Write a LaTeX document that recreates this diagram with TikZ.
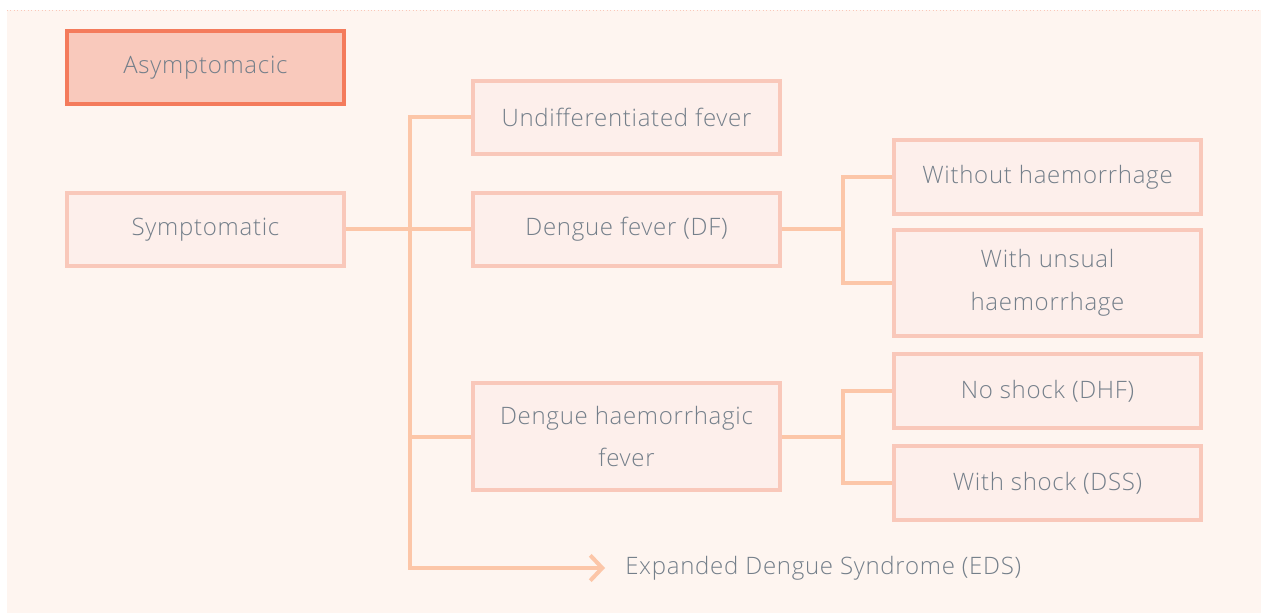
\documentclass[tikz,border=0pt]{standalone}
\usepackage{fontspec}
\IfFontExistsTF{Open Sans Light}
 {\setmainfont{Open Sans Light}[LetterSpace=3]}
 {\setmainfont{Open Sans}[LetterSpace=1]}
\usetikzlibrary{arrows.meta,positioning}
\definecolor{paper}{HTML}{FEF5F0}
\definecolor{boxfill}{HTML}{FDEFEB}
\definecolor{boxline}{HTML}{F9C8BA}
\definecolor{hotfill}{HTML}{F9C9BC}
\definecolor{hotline}{HTML}{F47B5C}
\definecolor{wire}{HTML}{FCC6A8}
\definecolor{ink}{HTML}{747F8A}
\tikzset{
 label/.style={text=ink,align=center,font=\fontsize{18}{32}\selectfont},
 stage/.style={label,draw=boxline,fill=boxfill,line width=2.4pt,
  minimum height=54.75pt,inner sep=0pt},
 narrow/.style={stage,minimum width=207.75pt},
 wide/.style={stage,minimum width=230.25pt},
 hot/.style={narrow,draw=hotline,fill=hotfill,line width=3pt},
 wire/.style={draw=wire,line width=3pt},
}
\begin{document}
\begin{tikzpicture}[x=.75pt,y=-.75pt]
 \useasboundingbox (0,0) rectangle (1261,613);
 \fill[paper] (7,10) rectangle (1261,613);
 \draw[boxline,dotted,line width=.6pt] (7,10)--(1261,10);
 % left column
 \node[hot] (asym) at(205.5,67.5){Asymptomacic};
 \node[narrow] (sympt) at(205.5,229.5){Symptomatic};
 % middle column
 \node[wide] (undiff) at(626.5,117.5){Undifferentiated fever};
 \node[wide] (df) at(626.5,229.5){Dengue fever (DF)};
 \node[wide,minimum height=80.25pt] (dhf) at(626.5,436.5){Dengue haemorrhagic\\fever};
 \node[label,anchor=west,inner sep=0pt] (eds) at(625,568){Expanded Dengue Syndrome (EDS)};
 % right column
 \foreach \n/\y/\h/\t in {nohaem/177/55.5/Without haemorrhage,unusual/283/79.5/With unsual\\haemorrhage,
  noshock/391/55.5/No shock (DHF),shock/483/55.5/With shock (DSS)}{
  \node[wide,minimum height=\h pt] (\n) at(1047.5,\y){\t};}
 % connectors
 \coordinate (jt) at(410,229.5);
 \coordinate (jd) at(843,229.5);
 \coordinate (jh) at(843,436.5);
 \coordinate (eend) at(605,568);
 \draw[wire] (sympt)--(df);
 \draw[wire,-{Straight Barb[length=9pt,width=19pt]}] (undiff.west)-|(jt)|-(eend);
 \draw[wire] (dhf.west)-|(jt);
 \draw[wire] (df)--(jd);
 \draw[wire] (nohaem.west)-|(jd)|-(unusual.west);
 \draw[wire] (dhf)--(jh);
 \draw[wire] (noshock.west)-|(jh)|-(shock.west);
\end{tikzpicture}
\end{document}
